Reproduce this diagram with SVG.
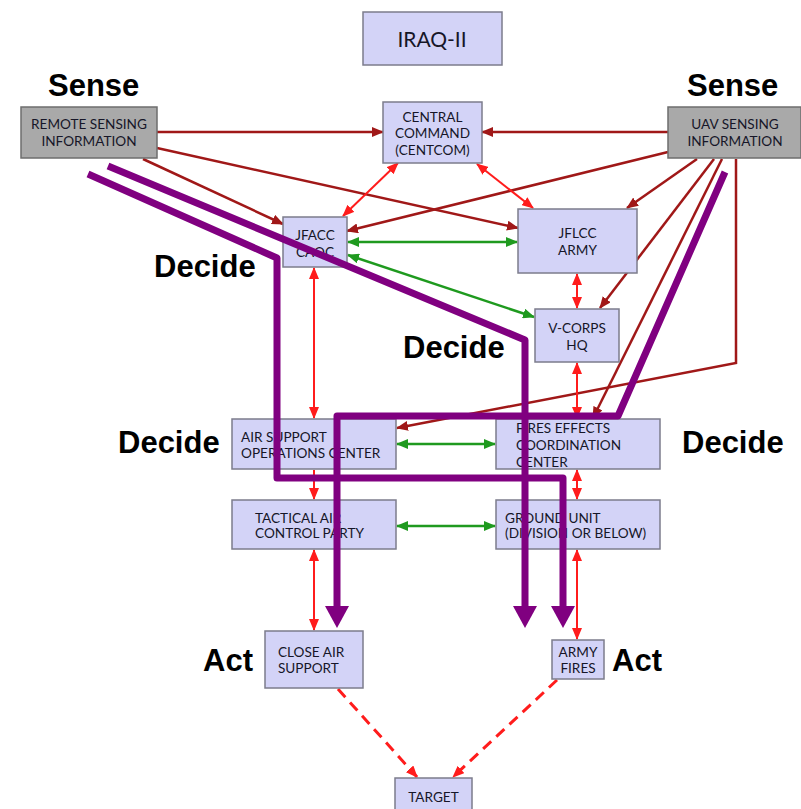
<svg xmlns="http://www.w3.org/2000/svg" width="801" height="809" viewBox="0 0 801 809">
<style>
.box{fill:#d3d3f7;stroke:#7c7c8c;stroke-width:1.5}
.gbox{fill:#a9a9a9;stroke:#6e6e6e;stroke-width:1.5}
.t{font-family:Lato,"Open Sans",sans-serif;font-size:13.6px;fill:#161628}
.c{text-anchor:middle}
.lbl{font-family:"Liberation Sans",Arial,sans-serif;font-weight:bold;font-size:31px;fill:#000}
.dr{stroke:#a01818;stroke-width:2.5;fill:none;marker-end:url(#ad)}
.r{stroke:#ff1c1c;stroke-width:2;fill:none;marker-end:url(#ar)}
.rr{stroke:#ff1c1c;stroke-width:2;fill:none;marker-end:url(#ar);marker-start:url(#ar)}
.gg{stroke:#1f9a1f;stroke-width:2.5;fill:none;marker-end:url(#ag);marker-start:url(#ag)}
.dash{stroke:#ff1c1c;stroke-width:3;fill:none;stroke-dasharray:11,7;marker-end:url(#ar)}
.p{stroke:#800080;stroke-width:7;fill:none;stroke-linejoin:round;marker-end:url(#ap)}
</style>
<defs>
<marker id="ad" markerUnits="userSpaceOnUse" markerWidth="12" markerHeight="10" refX="11" refY="5" orient="auto-start-reverse"><path d="M0,0 L12,5 L0,10 z" fill="#a01818"/></marker>
<marker id="ar" markerUnits="userSpaceOnUse" markerWidth="12" markerHeight="10" refX="11" refY="5" orient="auto-start-reverse"><path d="M0,0 L12,5 L0,10 z" fill="#ff1c1c"/></marker>
<marker id="ag" markerUnits="userSpaceOnUse" markerWidth="12" markerHeight="10" refX="11" refY="5" orient="auto-start-reverse"><path d="M0,0 L12,5 L0,10 z" fill="#1f9a1f"/></marker>
<marker id="ap" markerUnits="userSpaceOnUse" markerWidth="24" markerHeight="24" refX="2" refY="12" orient="auto"><path d="M0,0 L22,12 L0,24 z" fill="#800080"/></marker>
</defs>
<rect width="801" height="809" fill="#fff"/>

<g id="connectors">
<path class="dr" d="M157,132 H383"/>
<path class="dr" d="M143,159 L283,224"/>
<path class="dr" d="M157,148 L518,228"/>
<path class="dr" d="M668,132 H482"/>
<path class="dr" d="M668,152 L347,231"/>
<path class="dr" d="M697,159 L627,208"/>
<path class="dr" d="M714,159 L600,308"/>
<path class="dr" d="M722,159 L593,418"/>
<path class="dr" d="M736,159 V363 L397,428"/>
<path class="rr" d="M398,163 L343,216"/>
<path class="rr" d="M477,164 L533,208"/>
<path class="rr" d="M314,268 V418"/>
<path class="r" d="M314,470 V499"/>
<path class="rr" d="M314,550 V630"/>
<path class="rr" d="M577,274 V308"/>
<path class="rr" d="M577,363 V418"/>
<path class="rr" d="M577,470 V499"/>
<path class="rr" d="M577,550 V639"/>
<path class="gg" d="M348,242 H517"/>
<path class="gg" d="M348,255 L534,317"/>
<path class="gg" d="M397,444 H495"/>
<path class="gg" d="M397,526 H495"/>
<path class="dash" d="M338,689 L417,777"/>
<path class="dash" d="M557,680 L453,777"/>
</g>

<g id="iraq"><rect class="box" x="363" y="12" width="139" height="53"/><text class="t c" x="432" y="47" style="font-size:21px">IRAQ-II</text></g>
<g id="remote"><rect class="gbox" x="21" y="107" width="136" height="51"/><text class="t c" x="89" y="129">REMOTE SENSING</text><text class="t c" x="89" y="146">INFORMATION</text></g>
<g id="uav"><rect class="gbox" x="668" y="107" width="133" height="51"/><text class="t c" x="735" y="129">UAV SENSING</text><text class="t c" x="735" y="146">INFORMATION</text></g>
<g id="centcom"><rect class="box" x="383" y="102" width="99" height="61"/><text class="t c" x="432.5" y="122">CENTRAL</text><text class="t c" x="432.5" y="138">COMMAND</text><text class="t c" x="432.5" y="155">(CENTCOM)</text></g>
<g id="jfacc"><rect class="box" x="283" y="217" width="64" height="50"/><text class="t c" x="315" y="240">JFACC</text><text class="t c" x="315" y="257">CAOC</text></g>
<g id="jflcc"><rect class="box" x="518" y="209" width="119" height="64"/><text class="t c" x="577.5" y="238">JFLCC</text><text class="t c" x="577.5" y="255">ARMY</text></g>
<g id="vcorps"><rect class="box" x="535" y="309" width="84" height="53"/><text class="t c" x="577" y="333">V-CORPS</text><text class="t c" x="577" y="350">HQ</text></g>
<g id="asoc"><rect class="box" x="232" y="419" width="164" height="50"/><text class="t" x="241" y="442">AIR SUPPORT</text><text class="t" x="241" y="458">OPERATIONS CENTER</text></g>
<g id="fecc"><rect class="box" x="496" y="419" width="164" height="50"/><text class="t" x="516" y="433">FIRES EFFECTS</text><text class="t" x="516" y="450">COORDINATION</text><text class="t" x="516" y="467">CENTER</text></g>
<g id="tacp"><rect class="box" x="232" y="500" width="164" height="49"/><text class="t" x="255" y="523">TACTICAL AIR</text><text class="t" x="255" y="538">CONTROL PARTY</text></g>
<g id="ground"><rect class="box" x="496" y="500" width="164" height="49"/><text class="t" x="505" y="523">GROUND UNIT</text><text class="t" x="505" y="538">(DIVISION OR BELOW)</text></g>
<g id="cas"><rect class="box" x="265" y="631" width="98" height="57"/><text class="t" x="278" y="657">CLOSE AIR</text><text class="t" x="278" y="673">SUPPORT</text></g>
<g id="armyfires"><rect class="box" x="552" y="640" width="52" height="39"/><text class="t c" x="578" y="657">ARMY</text><text class="t c" x="578" y="673">FIRES</text></g>
<g id="target"><rect class="box" x="395" y="778" width="77" height="40"/><text class="t c" x="433.5" y="802">TARGET</text></g>

<g id="flows">
<path class="p" d="M88,174 L277,258 V478 H563 V608"/>
<path class="p" d="M108,166 L525,340 V608"/>
<path class="p" d="M725,172 L618,416 H337 V608"/>
</g>

<g id="labels">
<text class="lbl" x="48" y="96">Sense</text>
<text class="lbl" x="687" y="96">Sense</text>
<text class="lbl" x="154" y="277">Decide</text>
<text class="lbl" x="403" y="358">Decide</text>
<text class="lbl" x="118" y="453">Decide</text>
<text class="lbl" x="682" y="453">Decide</text>
<text class="lbl" x="203" y="671">Act</text>
<text class="lbl" x="612" y="671">Act</text>
</g>
</svg>
